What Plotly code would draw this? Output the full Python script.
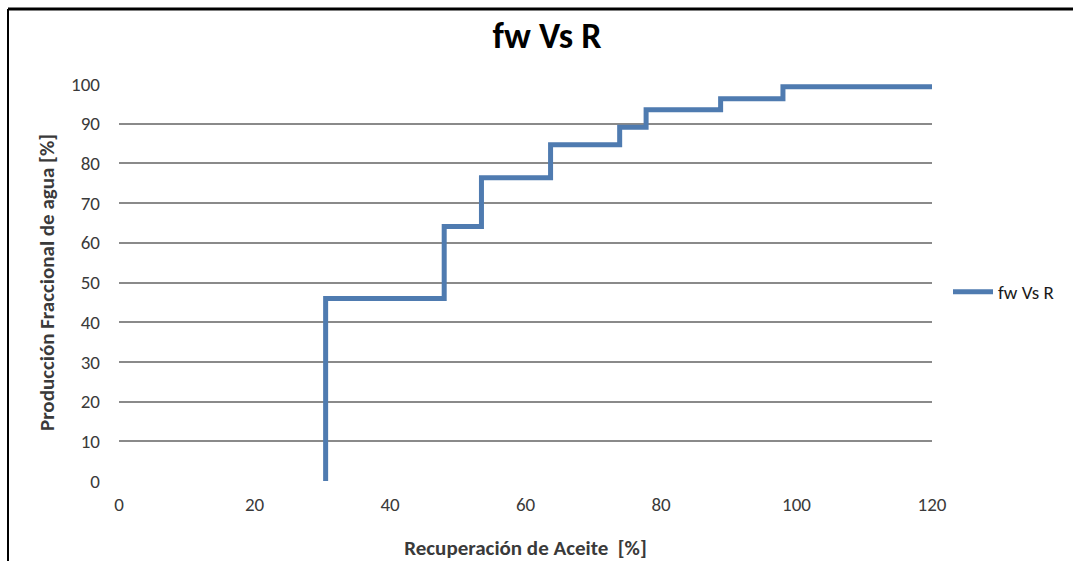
import plotly.graph_objects as go

# step corners (recovery %, water cut %)
recuperacion = [30.5, 30.5, 48.0, 53.5, 63.7, 73.9, 77.8, 88.8, 98.0, 120.0]
fw = [0.0, 46.0, 64.1, 76.4, 84.7, 89.1, 93.5, 96.3, 99.3, 99.3]

x_ticks = [0, 20, 40, 60, 80, 100, 120]
y_ticks = [0, 10, 20, 30, 40, 50, 60, 70, 80, 90, 100]

FONT = "Carlito, Lato, 'Open Sans', sans-serif"

fig = go.Figure()
fig.add_trace(go.Scatter(
    x=recuperacion, y=fw, mode="lines", name="fw Vs R",
    line=dict(color="#4f7bb0", width=5, shape="hv"),
))

L, R, T, B = 119, 141, 84, 80
W, H = 1073, 561
pw, ph = W - L - R, H - T - B

fig.update_layout(
    width=W, height=H,
    margin=dict(l=L, r=R, t=T, b=B),
    paper_bgcolor="white", plot_bgcolor="white",
    font=dict(family=FONT, size=19, color="#3a3a3a"),
    title=dict(text="<b>fw Vs R</b>", x=547 / W, xref="container", xanchor="center",
               y=1 - 35 / H, yref="container", yanchor="middle",
               font=dict(family=FONT, size=36, color="#000000")),
    showlegend=True,
    legend=dict(x=(948 - L) / pw, y=(H - B - 292) / ph, xanchor="left", yanchor="middle",
                font=dict(family=FONT, size=19, color="#1a1a1a"),
                bgcolor="rgba(0,0,0,0)", itemwidth=40),
)
fig.update_xaxes(
    range=[0, 120], tickvals=x_ticks, showgrid=False, zeroline=False,
    showline=False, ticks="", ticklabelstandoff=10, automargin=False,
    title=dict(text="<b>Recuperación de Aceite  [%]</b>", standoff=26,
               font=dict(family=FONT, size=21, color="#3a3a3a")),
)
fig.update_yaxes(
    range=[0, 100], tickvals=y_ticks, showgrid=True, gridcolor="#8a8a8a",
    gridwidth=1.5, zeroline=False, showline=False, ticks="",
    ticklabelstandoff=18, automargin=False,
    title=dict(text="<b>Producción Fraccional de agua [%]</b>", standoff=10,
               font=dict(family=FONT, size=21, color="#3a3a3a")),
)

# chart frame: only the left and top edges are visible in the reference
x_left = (8 - L) / pw
y_top = (H - B - 9) / ph
fig.add_shape(type="line", xref="paper", yref="paper", x0=x_left, x1=(W - L) / pw + 0.01,
              y0=y_top, y1=y_top, line=dict(color="black", width=3))
fig.add_shape(type="line", xref="paper", yref="paper", x0=x_left, x1=x_left,
              y0=y_top, y1=-B / ph - 0.01, line=dict(color="black", width=2))

# drop the default 8px page margin so the figure sits at the window origin
fig.write_html("out.html", config={"displayModeBar": False},
               post_script="document.body.style.margin='0';")
